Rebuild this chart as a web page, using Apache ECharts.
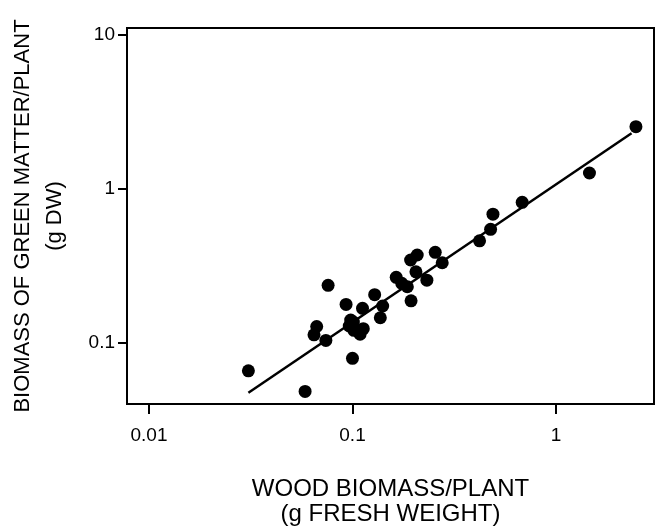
<!DOCTYPE html>
<html>
<head>
<meta charset="utf-8">
<script src="https://cdn.jsdelivr.net/npm/echarts@6/dist/echarts.min.js"></script>
<style>
  html, body { margin: 0; padding: 0; background: #fff; }
  #chart { width: 658px; height: 527px; }
</style>
</head>
<body>
<div id="chart"></div>
<script>
// wood biomass (g fresh weight) vs green matter biomass (g DW), log-log
const woodBiomass = [
  0.0308, 0.0585, 0.0759, 0.0667, 0.0647, 0.074, 0.093, 0.100, 0.098, 0.101,
  0.0964, 0.1016, 0.109, 0.113, 0.112, 0.1285, 0.1407, 0.137, 0.164, 0.1746,
  0.186, 0.194, 0.193, 0.205, 0.208, 0.255, 0.276, 0.232, 0.421, 0.477,
  0.49, 0.682, 1.46, 2.47
];
const greenBiomass = [
  0.066, 0.0485, 0.237, 0.128, 0.113, 0.104, 0.178, 0.0796, 0.141, 0.137,
  0.129, 0.121, 0.114, 0.124, 0.168, 0.206, 0.174, 0.146, 0.267, 0.244,
  0.232, 0.188, 0.346, 0.290, 0.373, 0.388, 0.332, 0.256, 0.461, 0.547,
  0.686, 0.82, 1.27, 2.54
];
// fitted line end points
const fitX = [0.0308, 2.35];
const fitY = [0.0475, 2.30];

const xTicks = [0.01, 0.1, 1];
const yTicks = [0.1, 1, 10];

const FONT = '"Liberation Sans", Arial, sans-serif';

const chart = echarts.init(document.getElementById('chart'));

const points = woodBiomass.map((x, i) => [x, greenBiomass[i]]);
const fitLine = fitX.map((x, i) => [x, fitY[i]]);

chart.setOption({
    animation: false,
    backgroundColor: '#fff',
    grid: {
        left: 127, right: 4, top: 28, bottom: 123,
        outerBoundsMode: 'none',
        containLabel: false,
        show: true, borderColor: '#000', borderWidth: 2, backgroundColor: 'transparent'
    },
    xAxis: {
        type: 'log',
        logBase: 10,
        min: 0.0078,
        max: 3.03,
        axisLine: { show: false },
        axisTick: { show: true, length: 10, inside: false, customValues: xTicks, lineStyle: { color: '#000', width: 2 } },
        axisLabel: {
            customValues: xTicks, color: '#000', fontSize: 19, fontFamily: FONT, margin: 22,
            formatter: v => String(+v.toPrecision(3))
        },
        minorTick: { show: false },
        splitLine: { show: false },
        name: 'WOOD BIOMASS/PLANT\n(g FRESH WEIGHT)',
        nameLocation: 'middle',
        nameGap: 73,
        nameTextStyle: { color: '#000', fontSize: 24, fontFamily: FONT, lineHeight: 25, align: 'center' }
    },
    yAxis: {
        type: 'log',
        logBase: 10,
        min: 0.0402,
        max: 11.1,
        axisLine: { show: false },
        axisTick: { show: true, length: 9, inside: false, customValues: yTicks, lineStyle: { color: '#000', width: 2 } },
        axisLabel: {
            customValues: yTicks, color: '#000', fontSize: 19, fontFamily: FONT, margin: 12,
            formatter: v => String(+v.toPrecision(3))
        },
        minorTick: { show: false },
        splitLine: { show: false },
        name: 'BIOMASS OF GREEN MATTER/PLANT\n(g DW)',
        nameLocation: 'middle',
        nameRotate: 90,
        nameGap: 56,
        nameTextStyle: { color: '#000', fontSize: 22, fontFamily: FONT, lineHeight: 32, align: 'center' }
    },
    series: [
        {
            type: 'line',
            data: fitLine,
            symbol: 'none',
            lineStyle: { color: '#000', width: 2.5 },
            z: 2
        },
        {
            type: 'scatter',
            data: points,
            symbol: 'circle',
            symbolSize: 13,
            itemStyle: { color: '#000', opacity: 1 },
            z: 3
        }
    ]
});
</script>
</body>
</html>
